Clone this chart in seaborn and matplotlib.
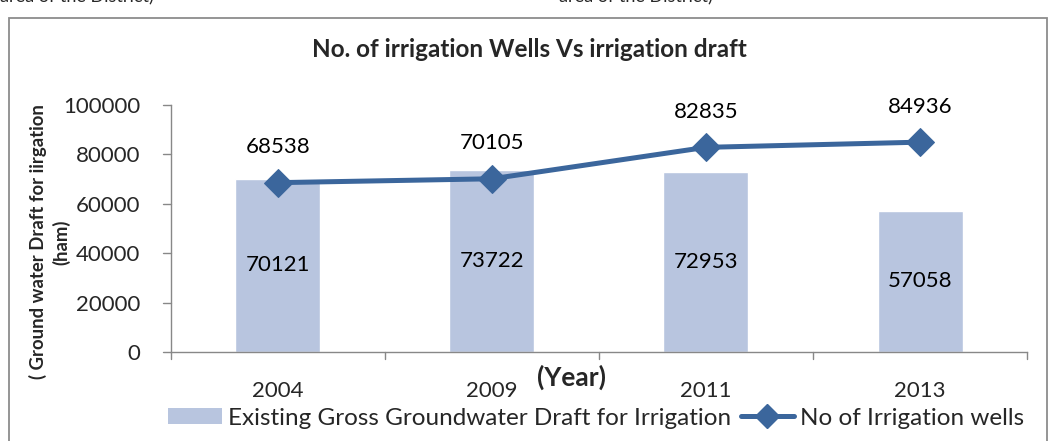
import matplotlib
matplotlib.use("Agg")
import matplotlib.pyplot as plt
import seaborn as sns
import pandas as pd
from matplotlib.patches import Rectangle, Patch
from matplotlib.lines import Line2D

years = ["2004", "2009", "2011", "2013"]
draft = [70121, 73722, 72953, 57058]
wells = [68538, 70105, 82835, 84936]
y_ticks = [0, 20000, 40000, 60000, 80000, 100000]

bar_color = "#B8C5DF"
line_color = "#3B669C"
font = ["Lato", "DejaVu Sans"]

sns.set_theme(style="white")
plt.rcParams["font.family"] = font

fig = plt.figure(figsize=(10.48, 4.41), dpi=100)
ax = fig.add_axes([0.163, 0.202, 0.817, 0.56])

df = pd.DataFrame({"year": years, "draft": draft, "wells": wells})
sns.barplot(data=df, x="year", y="draft", color=bar_color, width=0.397,
            saturation=1, ax=ax)
sns.lineplot(x=range(len(years)), y=wells, color=line_color, lw=3.6,
             marker="D", markersize=14, markeredgecolor=line_color, ax=ax)

ax.set_xlim(-0.5, len(years) - 0.5)
ax.set_ylim(0, 100000)
ax.set_yticks(y_ticks)
ax.set_yticklabels([str(v) for v in y_ticks], fontsize=16)
ax.set_xticks(range(len(years)))
ax.set_xticklabels(years, fontsize=16)
ax.tick_params(axis="x", length=0, pad=21)
ax.tick_params(axis="y", length=0, pad=22)
for x in [i - 0.5 for i in range(len(years) + 1)]:
    ax.plot([x, x], [0, -3000], color="#888888", lw=1, clip_on=False)
for v in y_ticks:
    ax.plot([-0.5, -0.535], [v, v], color="#888888", lw=1, clip_on=False)

for s in ["top", "right"]:
    ax.spines[s].set_visible(False)
for s in ["left", "bottom"]:
    ax.spines[s].set_color("#888888")
    ax.spines[s].set_linewidth(1)

# value labels: bars at mid-height, line points above the markers
for i, v in enumerate(draft):
    ax.text(i, v / 2, str(v), ha="center", va="center", fontsize=16, color="black")
for i, v in enumerate(wells):
    ax.text(i, v + 14300, str(v), ha="center", va="center", fontsize=16, color="black")

ax.set_xlabel("")
ax.set_ylabel("( Ground water Draft for iirgation\n(ham)", fontsize=13.3,
              fontweight="bold", linespacing=1.4)
ax.yaxis.set_label_coords(-0.117, 0.445)

fig.text(0.505, 0.887, "No. of irrigation Wells Vs irrigation draft",
         ha="center", va="center", fontsize=17.5, fontweight="bold")
fig.text(0.545, 0.145, "(Year)", ha="center", va="center", fontsize=19,
         fontweight="bold")

handles = [Patch(facecolor=bar_color, edgecolor="none"),
           Line2D([0], [0], color=line_color, lw=3.6, marker="D",
                  markersize=12)]
labels = ["Existing Gross Groundwater Draft for Irrigation",
          "No of Irrigation wells"]
fig.legend(handles, labels, loc="center", bbox_to_anchor=(0.569, 0.052),
           ncol=2, frameon=False, fontsize=17.5, handlelength=2.2,
           handleheight=0.58, handletextpad=0.25, columnspacing=0.4,
           borderpad=0.1)

# surrounding frame
fig.patches.append(Rectangle((0.0086, -0.05), 0.99, 1.01, transform=fig.transFigure,
                             fill=False, edgecolor="#8C8C8C", lw=1.3))
fig.text(0.0, 1.006, "area of the District)", ha="left", va="center",
         fontsize=13)
fig.text(0.533, 1.006, "area of the District)", ha="left", va="center",
         fontsize=13)

fig.savefig("out.png", dpi=100)
